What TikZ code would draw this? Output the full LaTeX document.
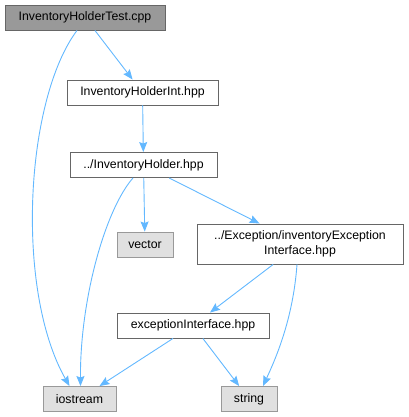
\documentclass[tikz,border=0pt]{standalone}
\usepackage{fontspec}
\setmainfont{Liberation Sans}
\usetikzlibrary{arrows.meta}

\definecolor{edgeblue}{HTML}{63B8FF}
\definecolor{boxline}{HTML}{666666}
\definecolor{sysline}{HTML}{999999}
\definecolor{sysfill}{HTML}{E0E0E0}
\definecolor{mainfill}{HTML}{999999}

\begin{document}
\begin{tikzpicture}[x=1pt,y=-1pt,font=\fontsize{12.3}{14.5}\selectfont]

% --- Define Styles ---
\tikzset{
    file/.style={draw=boxline, fill=white, line width=0.9pt, inner sep=0pt, minimum height=25pt, align=center},
    mainfile/.style={file, fill=mainfill},
    sysfile/.style={file, draw=sysline, fill=sysfill},
    inc/.style={-{Stealth[length=10pt, width=8pt, inset=1.5pt]}, draw=edgeblue, line width=0.9pt}
}

\useasboundingbox (0,0) rectangle (408,417);

% ================= FILES =================
\node[mainfile, minimum width=160pt] (test) at (85,17.5) {InventoryHolderTest.cpp};
\node[file, minimum width=151pt] (holderint) at (142.5,92.5) {InventoryHolderInt.hpp};
\node[file, minimum width=147pt] (holder) at (143.5,165) {../InventoryHolder.hpp};
\node[sysfile, minimum width=56pt] (vector) at (145,244.5) {vector};
\node[file, minimum width=206pt, minimum height=40pt] (exciface) at (300,244) {../Exception/inventoryException\\Interface.hpp};
\node[file, minimum width=152pt] (excint) at (193,325.5) {exceptionInterface.hpp};
\node[sysfile, minimum width=73pt] (iostream) at (79.5,399) {iostream};
\node[sysfile, minimum width=56pt] (string) at (249,399) {string};

% ================= INCLUDES =================
\draw[inc] (test) -- (holderint);
\draw[inc] ([xshift=-8pt]test.south) .. controls (25,100) and (15,290) .. ([xshift=-10pt]iostream.north);
\draw[inc] (holderint) -- (holder);
\draw[inc] (holder) -- (vector);
\draw[inc] (holder) -- (exciface);
\draw[inc] ([xshift=-10.5pt]holder.south) .. controls (105,210) and (80,300) .. ([xshift=1pt]iostream.north);
\draw[inc] (exciface) -- (excint);
\draw[inc] ([xshift=-3pt]exciface.south) .. controls (293,320) and (275,360) .. ([xshift=14pt]string.north);
\draw[inc] (excint) -- (iostream);
\draw[inc] (excint) -- (string);

\end{tikzpicture}
\end{document}
